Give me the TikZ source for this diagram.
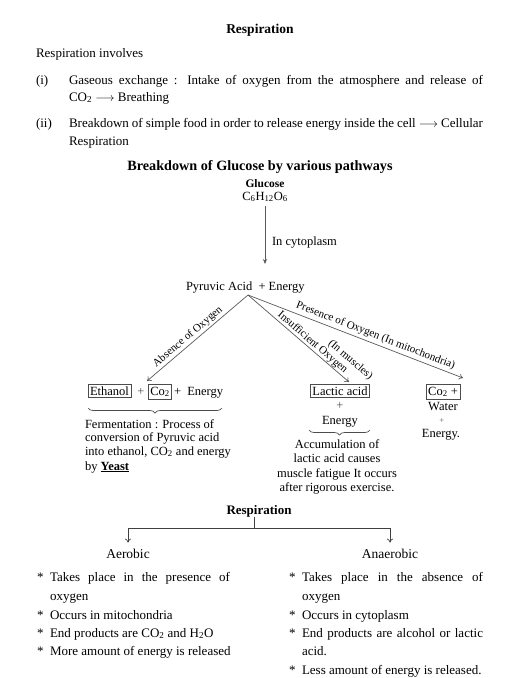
\documentclass[tikz,border=0pt]{standalone}
\usepackage{fontspec}
\setmainfont{Liberation Serif}
\usetikzlibrary{arrows.meta,decorations.pathreplacing}
\begin{document}
\begin{tikzpicture}[x=1pt,y=-1pt,
  every node/.style={inner sep=0pt, outer sep=0pt},
  body/.style={anchor=base west, font=\fontsize{13}{15}\selectfont},
  dtext/.style={font=\fontsize{12.5}{14}\selectfont},
  dleft/.style={anchor=base west, font=\fontsize{12.5}{14}\selectfont},
  dmid/.style={anchor=base, font=\fontsize{12.5}{14}\selectfont},
  lbl/.style={font=\fontsize{11}{13}\selectfont, sloped},
  boxed/.style={draw=black!70, inner sep=2pt, line width=0.6pt},
  conn/.style={draw=black!65, line width=0.7pt, -{To[length=4pt,width=6pt]}},
  mainarrow/.style={draw=black!65, line width=0.7pt, -{Stealth[length=5pt,width=4pt]}},
  treeline/.style={draw=black!75, line width=0.7pt},
  bracestyle/.style={decorate, decoration={brace, mirror, amplitude=5pt}, draw=black!70, line width=0.7pt}
]
\useasboundingbox (0,0) rectangle (515,678);

% header
\node[anchor=base, font=\bfseries\fontsize{13.5}{16}\selectfont] (t1) at (260,33) {Respiration};
\node[body] (inv) at (36,57) {Respiration involves};
\node[body] (i1) at (36,84) {(i)};
\node[body] (i1a) at (69,84) {\makebox[414pt][s]{Gaseous exchange : Intake of oxygen from the atmosphere and release of}};
\node[body] (i1b) at (69,101) {CO\textsubscript{2} $\longrightarrow$ Breathing};
\node[body] (i2) at (36,127) {(ii)};
\node[body] (i2a) at (69,127) {\makebox[414pt][s]{Breakdown of simple food in order to release energy inside the cell $\longrightarrow$ Cellular}};
\node[body] (i2b) at (69,145) {Respiration};

% glucose pathway
\node[anchor=base, font=\bfseries\fontsize{14.2}{16}\selectfont] (t2) at (260,170) {Breakdown of Glucose by various pathways};
\node[anchor=base, font=\bfseries\fontsize{11.5}{13}\selectfont] (glu) at (265,187) {Glucose};
\node[dmid] (form) at (265,200) {C\textsubscript{6}H\textsubscript{12}O\textsubscript{6}};
\coordinate (cytend) at (265,264);
\draw[mainarrow] ([yshift=-4pt]form.south) -- (cytend);
\node[dleft] (cyt) at (272,245) {In cytoplasm};
\node[dleft] (pyr) at (186,290) {Pyruvic Acid\ \ + Energy};

\coordinate (apex) at (248,295);
\coordinate (lt) at (147,381);
\coordinate (mt) at (349,382);
\coordinate (rt) at (463,378);
\draw[conn] (apex) -- node[lbl, above=2pt, pos=0.55] {Absence of Oxygen} (lt);
\draw[conn] (apex) -- node[lbl, above=1pt, pos=0.6] {Insufficient Oxygen}
                      node[lbl, above=12.5pt, pos=0.9] {(In muscles)} (mt);
\draw[conn] (apex) -- node[lbl, above=3pt, pos=0.58] {Presence of Oxygen (In mitochondria)} (rt);

% fermentation column
\node[boxed, dmid] (eth) at (109.5,395) {Ethanol};
\node[dmid, text=black!70] (p1) at (141,395) {+};
\node[boxed, dmid] (co2a) at (160,395) {Co\textsubscript{2}};
\node[dleft] (en1) at (174,395) {+\ \ Energy};
\coordinate (b1l) at (88,408);
\coordinate (b1r) at (222,408);
\draw[bracestyle] (b1l) -- (b1r);
\node[dleft] (f1) at (85,428) {Fermentation : Process of};
\node[dleft] (f2) at (85,441) {conversion of Pyruvic acid};
\node[dleft] (f3) at (85,455) {into ethanol, CO\textsubscript{2} and energy};
\node[dleft] (f4) at (85,470) {by \underline{\textbf{Yeast}}};

% lactic column
\node[boxed, dmid] (lac) at (340,395) {Lactic acid};
\node[dmid, text=black!70] (p2) at (340,409) {+};
\node[dmid] (en2) at (340,424) {Energy};
\coordinate (b2l) at (309,430);
\coordinate (b2r) at (370,430);
\draw[bracestyle] (b2l) -- (b2r);
\node[dmid] (l1) at (337,448) {Accumulation of};
\node[dmid] (l2) at (337,462) {lactic acid causes};
\node[dmid] (l3) at (337,477) {muscle fatigue It occurs};
\node[dmid] (l4) at (337,491) {after rigorous exercise.};

% aerobic column
\node[boxed, dmid] (co2b) at (443,395) {Co\textsubscript{2} +};
\node[dmid] (wat) at (443,410) {Water};
\node[anchor=base, font=\fontsize{9}{10}\selectfont, text=black!60] (p3) at (442,423) {+};
\node[dmid] (en3) at (441,437) {Energy.};

% respiration tree
\node[anchor=base, font=\bfseries\fontsize{13}{15}\selectfont] (r2) at (259,514) {Respiration};
\node[anchor=base, font=\fontsize{13.5}{15}\selectfont] (aer) at (128,558) {Aerobic};
\node[anchor=base, font=\fontsize{13.5}{15}\selectfont] (ana) at (390,558) {Anaerobic};
\coordinate (j) at (254,528);
\draw[treeline] (r2.south -| j) -- (j);
\draw[treeline, -{To[length=4pt,width=6pt]}] (j) -| ([yshift=6pt]aer.north);
\draw[treeline, -{To[length=4pt,width=6pt]}] (j) -| ([yshift=6pt]ana.north);

% aerobic list
\node[body] (s1) at (37,581) {*};
\node[body] (a1) at (50,581) {\makebox[180pt][s]{Takes place in the presence of}};
\node[body] (a1b) at (50,600) {oxygen};
\node[body] (s2) at (37,619) {*};
\node[body] (a2) at (50,619) {Occurs in mitochondria};
\node[body] (s3) at (37,637) {*};
\node[body] (a3) at (50,637) {End products are CO\textsubscript{2} and H\textsubscript{2}O};
\node[body] (s4) at (37,655) {*};
\node[body] (a4) at (50,655) {More amount of energy is released};

% anaerobic list
\node[body] (t1s) at (289,581) {*};
\node[body] (n1) at (302,581) {\makebox[181pt][s]{Takes place in the absence of}};
\node[body] (n1b) at (302,600) {oxygen};
\node[body] (t2s) at (289,619) {*};
\node[body] (n2) at (302,619) {Occurs in cytoplasm};
\node[body] (t3s) at (289,637) {*};
\node[body] (n3) at (302,637) {\makebox[181pt][s]{End products are alcohol or lactic}};
\node[body] (n3b) at (302,655) {acid.};
\node[body] (t4s) at (289,674) {*};
\node[body] (n4) at (302,674) {Less amount of energy is released.};
\end{tikzpicture}
\end{document}
